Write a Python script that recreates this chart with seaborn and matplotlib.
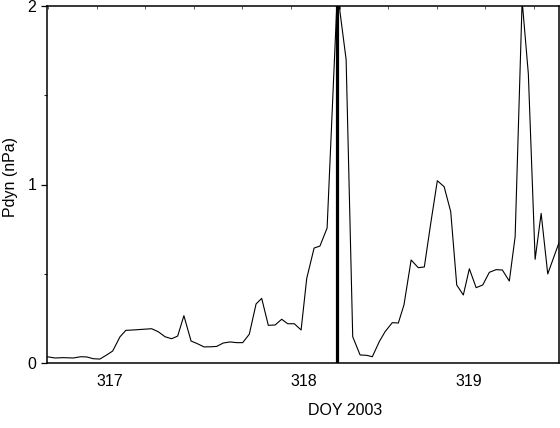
import numpy as np
import pandas as pd
import matplotlib
matplotlib.use("Agg")
import matplotlib.pyplot as plt
import seaborn as sns
from matplotlib.ticker import FixedLocator, MultipleLocator

# ---- data ----
doy = [316.744, 316.784, 316.826, 316.878, 316.916, 316.947, 316.981, 317.015, 317.050, 317.081,
       317.119, 317.149, 317.187, 317.239, 317.282, 317.316, 317.351, 317.385, 317.416, 317.448,
       317.485, 317.514, 317.552, 317.591, 317.617, 317.651, 317.686, 317.720, 317.751, 317.785,
       317.820, 317.849, 317.883, 317.918, 317.952, 317.983, 318.017, 318.052, 318.081, 318.119,
       318.149, 318.186, 318.239, 318.284, 318.318, 318.356, 318.390, 318.419, 318.455, 318.485,
       318.522, 318.553, 318.582, 318.619, 318.656, 318.687, 318.720, 318.754, 318.789, 318.823,
       318.854, 318.888, 318.919, 318.954, 318.988, 319.022, 319.057, 319.089, 319.125, 319.155,
       319.191, 319.223, 319.258, 319.289, 319.323, 319.383]
pdyn = [0.035, 0.028, 0.030, 0.028, 0.035, 0.034, 0.024, 0.022, 0.045, 0.067,
        0.147, 0.183, 0.185, 0.189, 0.192, 0.175, 0.147, 0.136, 0.151, 0.265,
        0.123, 0.110, 0.090, 0.091, 0.093, 0.112, 0.118, 0.114, 0.114, 0.161,
        0.331, 0.362, 0.211, 0.213, 0.245, 0.220, 0.220, 0.185, 0.474, 0.644,
        0.655, 0.756, 2.080, 1.700, 0.147, 0.045, 0.043, 0.035, 0.120, 0.176,
        0.226, 0.224, 0.325, 0.577, 0.534, 0.538, 0.782, 1.021, 0.988, 0.848,
        0.437, 0.381, 0.528, 0.422, 0.437, 0.508, 0.523, 0.521, 0.459, 0.708,
        2.030, 1.620, 0.581, 0.838, 0.499, 0.680]
marker_doy = 318.235
xtick_pos = [317.067, 318.064, 318.918]
xtick_labels = ["317", "318", "319"]
ytick_vals = [0, 1, 2]
ytick_labels = ["0", "1", "2"]

df = pd.DataFrame({"DOY": doy, "Pdyn": pdyn})

sns.set_theme(style="ticks")
plt.rcParams["font.family"] = ["Liberation Sans", "DejaVu Sans"]

fig = plt.figure(figsize=(5.6, 4.28), dpi=100)
ax = fig.add_axes([46.5 / 560, 1 - 363 / 428, (559 - 46.5) / 560, (363 - 6) / 428])

sns.lineplot(data=df, x="DOY", y="Pdyn", ax=ax, color="black", linewidth=0.8,
             sort=False, estimator=None)
ax.axvline(marker_doy, color="black", linewidth=2.3)

ax.set_xlim(316.740, 319.381)
ax.set_ylim(0, 2)

ax.xaxis.set_major_locator(FixedLocator(xtick_pos))
ax.set_xticklabels(xtick_labels)
ax.xaxis.set_minor_locator(MultipleLocator(0.25))
ax.tick_params(axis="x", which="major", length=0, pad=8, labelsize=11.5,
               colors="black", top=False, bottom=False)
ax.tick_params(axis="x", which="minor", length=2, width=0.6, direction="in",
               top=True, bottom=False, color="#444444")

ax.set_yticks(ytick_vals)
ax.set_yticklabels(ytick_labels)
ax.yaxis.set_minor_locator(MultipleLocator(0.5))
ax.tick_params(axis="y", which="major", length=4.3, width=0.9, pad=3,
               labelsize=11.5, colors="black", right=False)
ax.tick_params(axis="y", which="minor", length=2.2, width=0.8, right=False)

for s in ax.spines.values():
    s.set_color("black")
    s.set_linewidth(1.1)

ax.set_xlabel("DOY 2003", fontsize=11.5, color="black")
ax.xaxis.set_label_coords(0.582, -0.112)
ax.set_ylabel("Pdyn (nPa)", fontsize=11.5, color="black")
ax.yaxis.set_label_coords(-0.055, 0.52)

fig.savefig("out.png", dpi=100)
